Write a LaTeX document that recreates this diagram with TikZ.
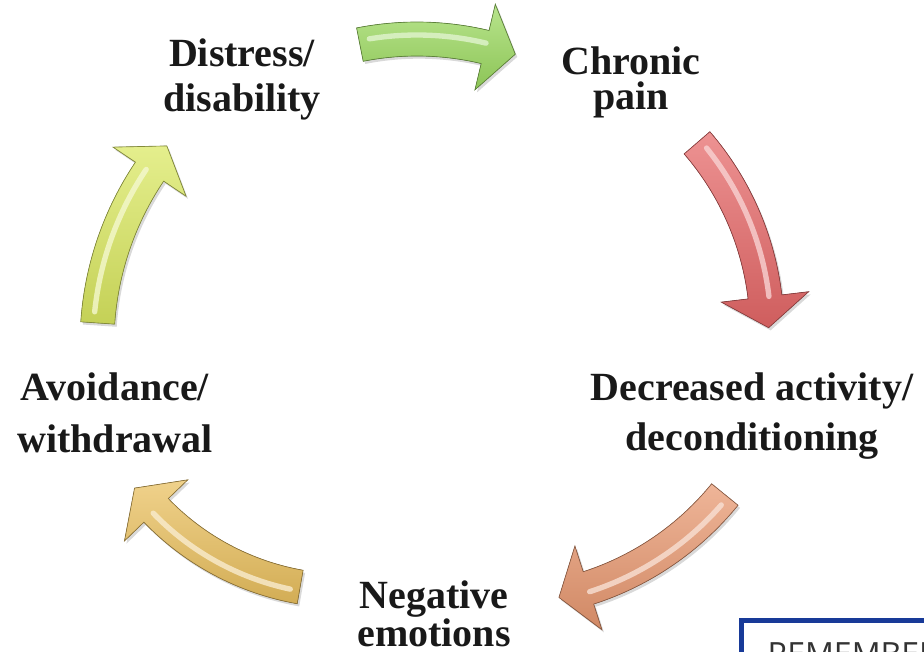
\documentclass[tikz,border=0pt]{standalone}
\usepackage{fontspec}
\setmainfont{Liberation Serif}
\newfontfamily\remfont{Open Sans}
\usepackage{xcolor}
\usepackage{tikz}
\usetikzlibrary{calc,shadows}

\definecolor{cyclegreen}{RGB}{156,218,96}
\definecolor{cyclered}{RGB}{230,104,104}
\definecolor{cycleorange}{RGB}{232,152,112}
\definecolor{cyclegold}{RGB}{234,192,94}
\definecolor{cycleyellow}{RGB}{218,232,96}
\definecolor{remblue}{RGB}{24,58,152}

\begin{document}
\begin{tikzpicture}
	[x=0.75pt,y=-0.75pt,
	stage/.style={font=\bfseries\fontsize{30}{#1}\selectfont,align=center,anchor=base,text=black!90,inner sep=0pt},
	bentarrow/.style={top color=#1!72!white,bottom color=#1!90!black,draw=#1!60!black,line width=0.5pt,
		drop shadow={opacity=.3,shadow xshift=1.5pt,shadow yshift=-2pt}},
	ridge/.style={draw=#1!30!white,line width=4pt,line cap=round,opacity=.8},
	rembox/.style={draw=remblue,line width=3.75pt,anchor=north west,inner xsep=19.5pt,inner ysep=16.5pt,
		text width=200pt,align=left,font=\remfont\fontsize{24}{28}\selectfont,text=black!80}]
	\useasboundingbox (0,0) rectangle (924,652);
	\clip (0,0) rectangle (924,652);

	\foreach \cx/\cy/\rad/\tailang/\headang/\col in
		{417/333/294/-101.2/-76.6/cyclegreen,
		 479/331/288/-40.8/-6.8/cyclered,
		 499/311/291/39.1/72.1/cycleorange,
		 346/327/264/100/136/cyclegold,
		 406/344/309/183.9/213.9/cycleyellow}
	{
	\begin{scope}[shift={(\cx,\cy)}]
		\filldraw[bentarrow=\col] (\tailang:\rad+17) arc[start angle=\tailang,end angle=\headang,radius=\rad+17]
			-- (\headang:\rad+44) -- ($(\headang:\rad)+(\headang+90:31)$) -- (\headang:\rad-44)
			-- (\headang:\rad-17) arc[start angle=\headang,end angle=\tailang,radius=\rad-17] -- cycle;
		\draw[ridge=\col] (\tailang+2:\rad+4) arc[start angle=\tailang+2,end angle=\headang,radius=\rad+4];
	\end{scope}
	}

	\node[stage=33.75] (distress) at (242,112) {Distress/\\disability};
	\node[stage=26.25] (chronic) at (631,110) {Chronic\\pain};
	\node[stage=37.5] (decreased) at (752,450) {Decreased activity/\\deconditioning};
	\node[stage=26.25] (negative) at (434,646) {Negative\\emotions};
	\node[stage=39] (avoidance) at (115,452) {Avoidance/\\withdrawal};

	\node[rembox] (remember) at (739,618) {REMEMBER};
\end{tikzpicture}
\end{document}
